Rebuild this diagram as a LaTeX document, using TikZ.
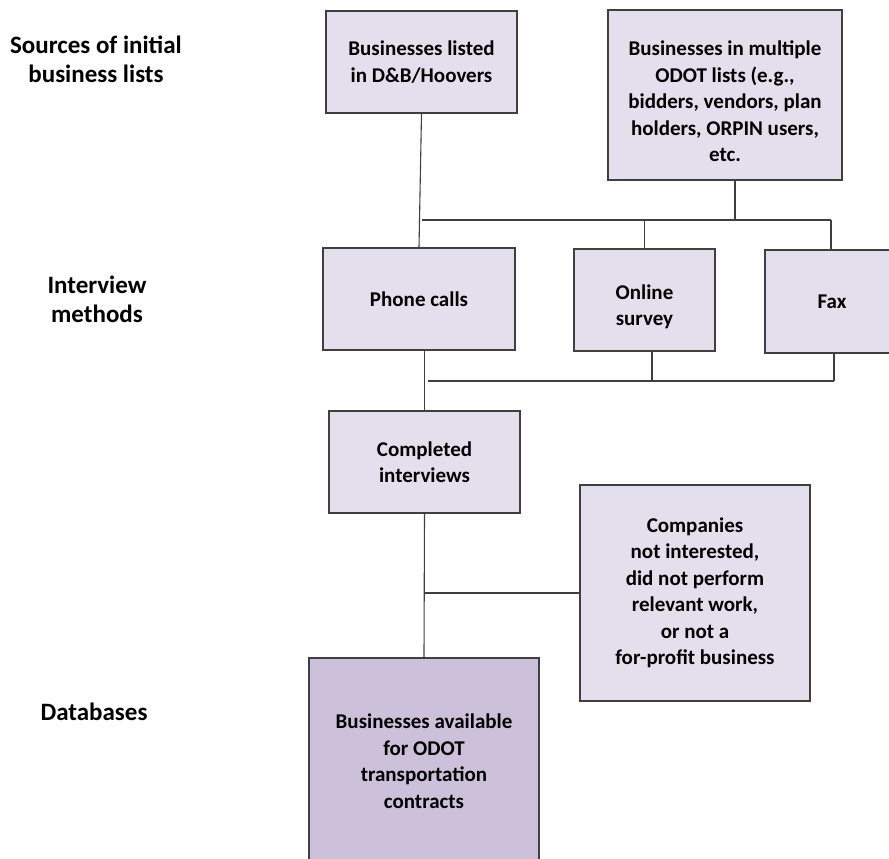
\documentclass[tikz,border=0pt]{standalone}
\usepackage{fontspec}
\setmainfont{Carlito}
\usepackage{tikz}
\usetikzlibrary{positioning}

\definecolor{boxfill}{HTML}{E4DFEC}
\definecolor{dbfill}{HTML}{CCC0DA}
\definecolor{edge}{HTML}{3F3F3F}

\begin{document}
\begin{tikzpicture}[
  x=1pt, y=-1pt,
  listbox/.style={rectangle, draw=edge, line width=1.2pt, fill=boxfill,
    inner sep=0pt, align=center, font=\bfseries\fontsize{21}{26.5}\selectfont},
  dbbox/.style={listbox, fill=dbfill},
  rowlabel/.style={align=center, inner sep=0pt,
    font=\bfseries\fontsize{25}{29}\selectfont},
  wire/.style={draw=edge, line width=1.1pt},
  ]
  \useasboundingbox (0,0) rectangle (889,859);
  \clip (0,0) rectangle (889,859);

  % --- row labels on the left ---
  \node[rowlabel] (lblsrc) at (96,59)    {Sources of initial\\business lists};
  \node[rowlabel] (lblint) at (97,299.5) {Interview\\methods};
  \node[rowlabel] (lbldb)  at (94,712)   {Databases};

  % --- sources ---
  \node[listbox, minimum width=191pt, minimum height=102pt] (hoovers) at (421.5,62)
    {Businesses listed\\in D\&B/Hoovers};
  \node[listbox, minimum width=234pt, minimum height=170pt] (odot) at (725,95)
    {\rule{0pt}{28pt}Businesses in multiple\\ODOT lists (e.g.,\\bidders, vendors, plan\\holders, ORPIN users,\\etc.};

  % --- interview methods ---
  \node[listbox, minimum width=192pt, minimum height=102pt] (phone)  at (419,299)   {Phone calls};
  \node[listbox, minimum width=141pt, minimum height=102pt] (online) at (644.5,300) {\rule{0pt}{28pt}Online\\survey};
  \node[listbox, minimum width=134pt, minimum height=103pt] (fax)    at (832,301.5) {Fax};

  % --- results ---
  \node[listbox, minimum width=191pt, minimum height=102pt] (done) at (424.5,462)
    {Completed\\interviews};
  \node[listbox, minimum width=230pt, minimum height=216pt] (dropped) at (695,593)
    {Companies\\not interested,\\did not perform\\relevant work,\\or not a\\for-profit business};
  \node[dbbox, minimum width=230pt, minimum height=206pt] (avail) at (424,761)
    {Businesses available\\for ODOT\\transportation\\contracts};

  % --- bus lines ---
  \coordinate (topbusL) at (422,220);
  \coordinate (topbusR) at (831,220);
  \coordinate (lowbusL) at (428,381);
  \coordinate (lowbusR) at (834,381);

  % sources -> methods
  \draw[wire] (hoovers.south) -- (phone.north);
  \draw[wire] (topbusL) -- (topbusR);
  \draw[wire] ([xshift=10pt]odot.south) -- ([xshift=10pt]odot.south |- topbusR);
  \draw[wire] (online.north |- topbusR) -- (online.north);
  \draw[wire] (topbusR) -- (topbusR |- fax.north);

  % methods -> completed
  \draw[wire] (lowbusL) -- (lowbusR);
  \draw[wire] ([xshift=7.5pt]online.south) -- ([xshift=7.5pt]online.south |- lowbusR);
  \draw[wire] (lowbusR |- fax.south) -- (lowbusR);
  \draw[wire] (done.north |- phone.south) -- (done.north);

  % completed -> databases, dropped
  \draw[wire] (done.south) -- (avail.north);
  \draw[wire] (dropped.west -| done.south) -- (dropped.west);
\end{tikzpicture}
\end{document}
